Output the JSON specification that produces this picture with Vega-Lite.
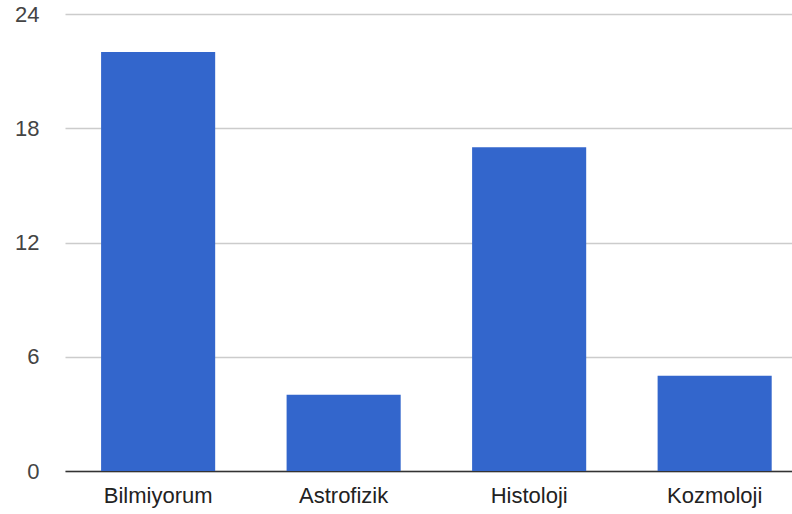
{
  "$schema": "https://vega.github.io/schema/vega-lite/v6.json",
  "autosize": "none",
  "width": 727,
  "height": 457,
  "padding": {"left": 65, "top": 14, "right": 0, "bottom": 43},
  "background": "white",
  "config": {"view": {"stroke": null}, "font": "Liberation Sans"},
  "data": {"values": [
    {"kategori": "Bilmiyorum", "sayi": 22},
    {"kategori": "Astrofizik", "sayi": 4},
    {"kategori": "Histoloji", "sayi": 17},
    {"kategori": "Kozmoloji", "sayi": 5}
  ]},
  "mark": {"type": "bar", "color": "#3366cc"},
  "encoding": {
    "x": {
      "field": "kategori", "type": "nominal", "sort": null,
      "scale": {"paddingInner": 0.385, "paddingOuter": 0.152, "align": 0.64},
      "axis": {"title": null, "labelAngle": 0, "ticks": false, "domain": true, "domainColor": "#333333", "domainWidth": 1.5,
               "labelFontSize": 22, "labelColor": "#222222", "labelPadding": 14, "grid": false}
    },
    "y": {
      "field": "sayi", "type": "quantitative",
      "scale": {"domain": [0, 24], "nice": false},
      "axis": {"title": null, "values": [0, 6, 12, 18, 24], "ticks": false, "domain": false,
               "gridColor": "#cccccc", "gridWidth": 1.5, "labelFontSize": 22, "labelColor": "#444444", "labelPadding": 26}
    }
  }
}
